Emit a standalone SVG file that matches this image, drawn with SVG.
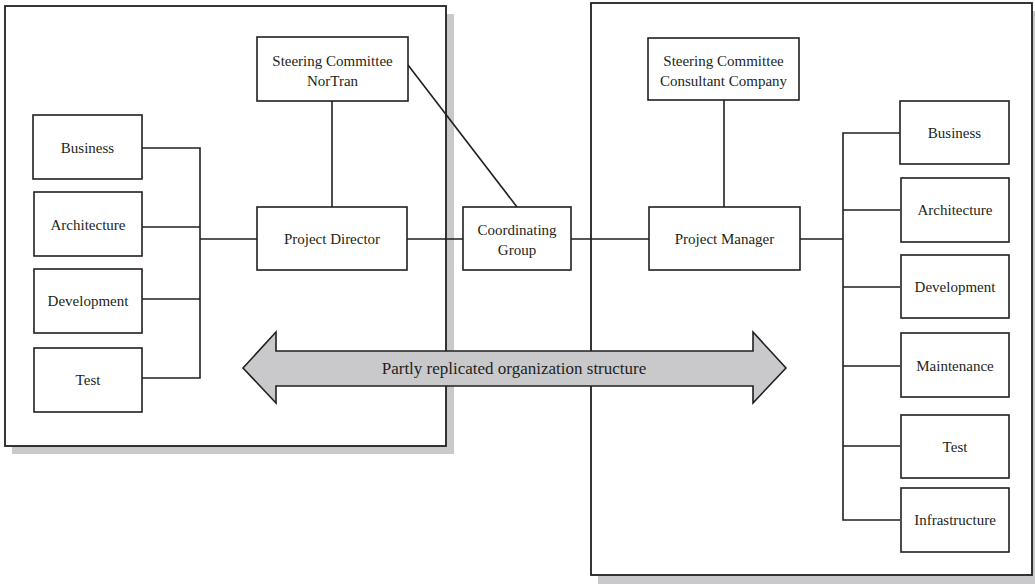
<svg xmlns="http://www.w3.org/2000/svg" width="1035" height="584" viewBox="0 0 1035 584">
  <style>
    .frame { fill: #ffffff; stroke: #231f20; stroke-width: 1.8; }
    .shadow { fill: #c9c9cb; stroke: none; }
    .box { fill: #ffffff; stroke: #231f20; stroke-width: 1.6; }
    .wire { fill: none; stroke: #231f20; stroke-width: 1.6; }
    .lbl { font-family: "Liberation Serif", "DejaVu Serif", serif; font-size: 15px; fill: #231f20; text-anchor: middle; }
    .big { font-size: 17px; }
    .arrow { fill: #c9c9cb; stroke: #231f20; stroke-width: 1.6; stroke-linejoin: miter; }
  </style>

  <!-- organisation frames with drop shadows -->
  <g id="frame-nortran">
    <rect class="shadow" x="12" y="14" width="442" height="440"/>
    <rect class="frame" x="5" y="6" width="441" height="440"/>
  </g>
  <g id="frame-consultant">
    <rect class="shadow" x="598" y="11" width="440" height="573"/>
    <rect class="frame" x="591" y="3" width="441" height="572"/>
  </g>

  <!-- connectors -->
  <g id="connectors">
    <!-- NorTran side bus -->
    <path class="wire" d="M142 148 H200 V378 H142 M142 227 H200 M142 299 H200 M200 239 H257"/>
    <path class="wire" d="M332 101 V207"/>
    <path class="wire" d="M408 65 L517 207"/>
    <path class="wire" d="M407 239 H463 M571 239 H649"/>
    <!-- consultant side bus -->
    <path class="wire" d="M724 100 V207"/>
    <path class="wire" d="M800 239 H843 M900 133 H843 V520 H900 M843 210 H900 M843 287 H900 M843 366 H900 M843 446 H900"/>
  </g>

  <!-- double-headed arrow across both organisations -->
  <g id="replication-arrow">
    <polygon class="arrow" points="243,368 276,332 276,351 753,351 753,332 786,368 753,403 753,386 276,386 276,403"/>
    <text class="lbl big" x="514" y="374">Partly replicated organization structure</text>
  </g>

  <!-- NorTran nodes -->
  <g id="sc-nortran">
    <rect class="box" x="257" y="37" width="151" height="64"/>
    <text class="lbl" x="332.5" y="66">Steering Committee</text>
    <text class="lbl" x="332.5" y="86">NorTran</text>
  </g>
  <g id="project-director">
    <rect class="box" x="257" y="207" width="150" height="63"/>
    <text class="lbl" x="332" y="244">Project Director</text>
  </g>
  <g id="n-business">
    <rect class="box" x="33" y="115" width="109" height="64"/>
    <text class="lbl" x="87.5" y="153">Business</text>
  </g>
  <g id="n-architecture">
    <rect class="box" x="34" y="192" width="108" height="64"/>
    <text class="lbl" x="88" y="230">Architecture</text>
  </g>
  <g id="n-development">
    <rect class="box" x="34" y="269" width="108" height="64"/>
    <text class="lbl" x="88" y="306">Development</text>
  </g>
  <g id="n-test">
    <rect class="box" x="34" y="348" width="108" height="64"/>
    <text class="lbl" x="88" y="385">Test</text>
  </g>

  <!-- coordinating group between the two -->
  <g id="coordinating-group">
    <rect class="box" x="463" y="207" width="108" height="63"/>
    <text class="lbl" x="517" y="235">Coordinating</text>
    <text class="lbl" x="517" y="255">Group</text>
  </g>

  <!-- consultant company nodes -->
  <g id="sc-consultant">
    <rect class="box" x="648" y="38" width="151" height="62"/>
    <text class="lbl" x="723.5" y="66">Steering Committee</text>
    <text class="lbl" x="723.5" y="86">Consultant Company</text>
  </g>
  <g id="project-manager">
    <rect class="box" x="649" y="207" width="151" height="63"/>
    <text class="lbl" x="724.5" y="244">Project Manager</text>
  </g>
  <g id="c-business">
    <rect class="box" x="900" y="101" width="109" height="63"/>
    <text class="lbl" x="954.5" y="138">Business</text>
  </g>
  <g id="c-architecture">
    <rect class="box" x="901" y="178" width="108" height="64"/>
    <text class="lbl" x="955" y="215">Architecture</text>
  </g>
  <g id="c-development">
    <rect class="box" x="901" y="255" width="108" height="63"/>
    <text class="lbl" x="955" y="292">Development</text>
  </g>
  <g id="c-maintenance">
    <rect class="box" x="901" y="333" width="108" height="64"/>
    <text class="lbl" x="955" y="371">Maintenance</text>
  </g>
  <g id="c-test">
    <rect class="box" x="901" y="415" width="108" height="63"/>
    <text class="lbl" x="955" y="452">Test</text>
  </g>
  <g id="c-infrastructure">
    <rect class="box" x="901" y="488" width="108" height="64"/>
    <text class="lbl" x="955" y="525">Infrastructure</text>
  </g>
</svg>
